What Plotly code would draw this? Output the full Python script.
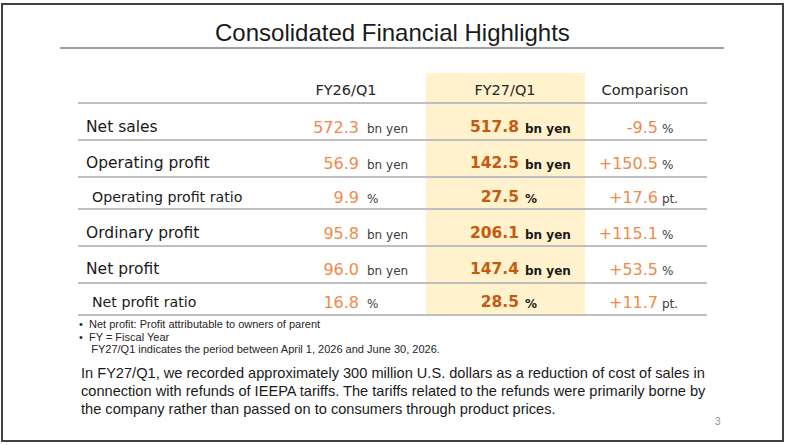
import plotly.graph_objects as go

# table data
rows = ["Net sales", "Operating profit", "Operating profit ratio",
        "Ordinary profit", "Net profit", "Net profit ratio"]
sub_row = [False, False, True, False, False, True]
fy26 = ["572.3", "56.9", "9.9", "95.8", "96.0", "16.8"]
fy27 = ["517.8", "142.5", "27.5", "206.1", "147.4", "28.5"]
units = ["bn yen", "bn yen", "%", "bn yen", "bn yen", "%"]
comparison = ["-9.5", "+150.5", "+17.6", "+115.1", "+53.5", "+11.7"]
comp_units = ["%", "%", "pt.", "%", "%", "pt."]
headers = ["FY26/Q1", "FY27/Q1", "Comparison"]

title = "Consolidated Financial Highlights"
notes = ["\u2022  Net profit: Profit attributable to owners of parent",
         "\u2022  FY = Fiscal Year",
         "    FY27/Q1 indicates the period between April 1, 2026 and June 30, 2026."]
paragraph = ["In FY27/Q1, we recorded approximately 300 million U.S. dollars as a reduction of cost of sales in",
             "connection with refunds of IEEPA tariffs. The tariffs related to the refunds were primarily borne by",
             "the company rather than passed on to consumers through product prices."]
page_no = "3"

row_y = [128.5, 164.5, 198.5, 234.5, 270.5, 303.5]
line_y = [140, 177, 209, 246, 283, 315]

ORANGE = "#F08A4B"
DARK_ORANGE = "#C55A11"
GRID = "#BFBFBF"
VERDANA = "DejaVu Sans, Verdana, sans-serif"
NARROW = "Liberation Sans Narrow, Liberation Sans, Arial, sans-serif"

fig = go.Figure()

shapes = []
# slide frame
shapes.append(dict(type="rect", x0=2, x1=783, y0=4, y1=441,
                   line=dict(color="#404040", width=2), layer="below"))
# title underline
shapes.append(dict(type="line", x0=60, x1=724, y0=48, y1=48,
                   line=dict(color="#808080", width=1.5)))
# highlighted column
shapes.append(dict(type="rect", x0=426, x1=585, y0=73, y1=315,
                   fillcolor="#FFF2CC", line=dict(width=0), layer="below"))
# row rules
for y in [103] + line_y:
    shapes.append(dict(type="line", x0=78, x1=707, y0=y, y1=y,
                       line=dict(color=GRID, width=1.8)))

# headers
fig.add_trace(go.Scatter(x=[346, 505, 645], y=[91, 91, 91], mode="text",
                         text=headers, textposition="middle center",
                         textfont=dict(family=VERDANA, size=14.5, color="#262626"),
                         hoverinfo="skip"))

# row labels
main_idx = [i for i, s in enumerate(sub_row) if not s]
sub_idx = [i for i, s in enumerate(sub_row) if s]
fig.add_trace(go.Scatter(x=[86] * len(main_idx), y=[row_y[i] for i in main_idx],
                         mode="text", text=[rows[i] for i in main_idx],
                         textposition="middle right",
                         textfont=dict(family=VERDANA, size=15.5, color="#1a1a1a"),
                         hoverinfo="skip"))
fig.add_trace(go.Scatter(x=[92] * len(sub_idx), y=[row_y[i] for i in sub_idx],
                         mode="text", text=[rows[i] for i in sub_idx],
                         textposition="middle right",
                         textfont=dict(family=VERDANA, size=14.2, color="#1a1a1a"),
                         hoverinfo="skip"))

n = len(rows)
# FY26 column
fig.add_trace(go.Scatter(x=[359] * n, y=row_y, mode="text", text=fy26,
                         textposition="middle left",
                         textfont=dict(family=VERDANA, size=16, color=ORANGE),
                         hoverinfo="skip"))
fig.add_trace(go.Scatter(x=[367] * n, y=[y + 1 for y in row_y], mode="text", text=units,
                         textposition="middle right",
                         textfont=dict(family=VERDANA, size=12, color="#404040"),
                         hoverinfo="skip"))
# FY27 column
fig.add_trace(go.Scatter(x=[519] * n, y=row_y, mode="text",
                         text=["<b>%s</b>" % v for v in fy27],
                         textposition="middle left",
                         textfont=dict(family=VERDANA, size=15.5, color=DARK_ORANGE),
                         hoverinfo="skip"))
fig.add_trace(go.Scatter(x=[525] * n, y=[y + 1 for y in row_y], mode="text",
                         text=["<b>%s</b>" % u for u in units],
                         textposition="middle right",
                         textfont=dict(family=VERDANA, size=12, color="#1a1a1a"),
                         hoverinfo="skip"))
# comparison column
fig.add_trace(go.Scatter(x=[658] * n, y=row_y, mode="text", text=comparison,
                         textposition="middle left",
                         textfont=dict(family=VERDANA, size=16, color=ORANGE),
                         hoverinfo="skip"))
fig.add_trace(go.Scatter(x=[662] * n, y=[y + 1 for y in row_y], mode="text", text=comp_units,
                         textposition="middle right",
                         textfont=dict(family=VERDANA, size=12, color="#404040"),
                         hoverinfo="skip"))

annotations = [dict(x=392, y=32, text=title, showarrow=False,
                    xanchor="center", yanchor="middle",
                    font=dict(family=NARROW, size=24, color="#1a1a1a"))]
for i, t in enumerate(notes):
    annotations.append(dict(x=77, y=324 + i * 12.5, text=t, showarrow=False,
                            xanchor="left", yanchor="middle",
                            font=dict(family=NARROW, size=11, color="#262626")))
for i, t in enumerate(paragraph):
    annotations.append(dict(x=79, y=373 + i * 18, text=t, showarrow=False,
                            xanchor="left", yanchor="middle",
                            font=dict(family=NARROW, size=14.6, color="#1a1a1a")))
annotations.append(dict(x=718, y=421, text=page_no, showarrow=False,
                        xanchor="center", yanchor="middle",
                        font=dict(family=NARROW, size=10, color="#8c8c8c")))

fig.update_layout(width=800, height=445, margin=dict(l=0, r=0, t=0, b=0),
                  paper_bgcolor="white", plot_bgcolor="white", showlegend=False,
                  shapes=shapes, annotations=annotations,
                  xaxis=dict(range=[0, 800], visible=False, fixedrange=True),
                  yaxis=dict(range=[445, 0], visible=False, fixedrange=True))

# drop the browser's default page margin so the slide sits at the window origin
fig.write_html("out.html", config={"displayModeBar": False},
               post_script="document.body.style.margin='0';")
